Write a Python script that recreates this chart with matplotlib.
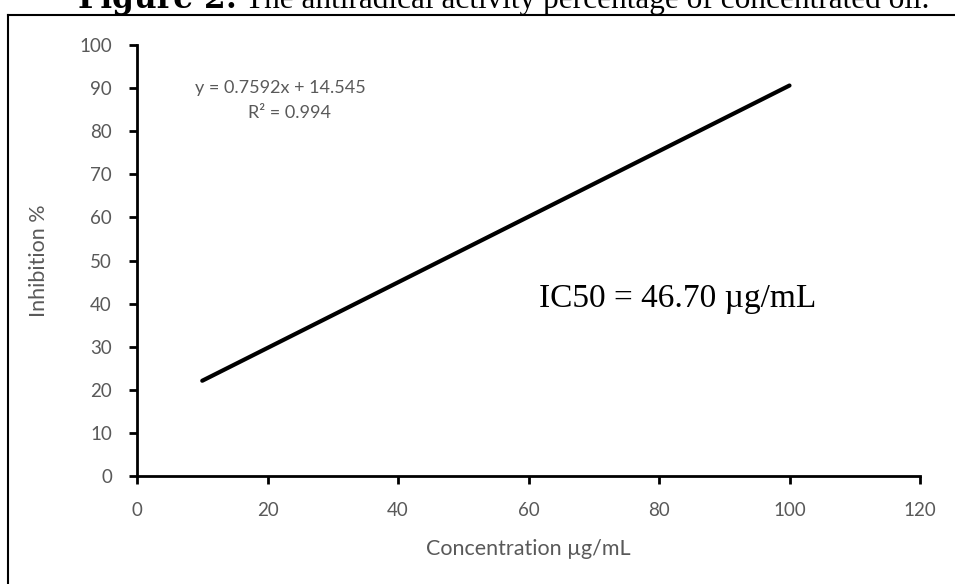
import matplotlib
matplotlib.use("Agg")
import matplotlib.pyplot as plt
from matplotlib.lines import Line2D

# Data
concentration = [10, 100]
inhibition = [22.1, 90.6]
x_ticks = [0, 20, 40, 60, 80, 100, 120]
y_ticks = [0, 10, 20, 30, 40, 50, 60, 70, 80, 90, 100]
equation = "y = 0.7592x + 14.545"
r2_text = "R² = 0.994"
ic50_text = "IC50 = 46.70 µg/mL"
title_bold = "Figure 2:"
title_rest = "The antiradical activity percentage of concentrated oil."
x_label = "Concentration µg/mL"
y_label = "Inhibition %"

W, H = 955, 584
fig = plt.figure(figsize=(W / 100, H / 100), dpi=100)
fig.patch.set_facecolor("white")

ax = fig.add_axes([137 / W, 1 - 476 / H, (920 - 137) / W, (476 - 45) / H])
ax.plot(concentration, inhibition, color="black", lw=3.0, solid_capstyle="round")
ax.set_xlim(0, 120)
ax.set_ylim(0, 100)
ax.set_xticks(x_ticks)
ax.set_yticks(y_ticks)
for s in ["top", "right"]:
    ax.spines[s].set_visible(False)
for s in ["left", "bottom"]:
    ax.spines[s].set_linewidth(2.0)
    ax.spines[s].set_color("black")
tick_font = "Lato"
ax.tick_params(axis="x", direction="out", length=6, width=2.0, color="black",
               labelcolor="#595959", labelsize=13.5, pad=13)
ax.tick_params(axis="y", direction="out", length=6, width=2.0, color="black",
               labelcolor="#595959", labelsize=13.5, pad=12)
for lab in ax.get_xticklabels() + ax.get_yticklabels():
    lab.set_fontfamily(tick_font)

ax.set_xlabel(x_label, fontsize=15.5, color="#595959", family=tick_font, labelpad=14)
ax.set_ylabel(y_label, fontsize=15.5, color="#595959", family=tick_font, labelpad=22)

ax.text(280 / W, 1 - 88 / H, equation, transform=fig.transFigure, ha="center", va="center",
        fontsize=13, color="#595959", family=tick_font)
ax.text(290 / W, 1 - 113 / H, r2_text, transform=fig.transFigure, ha="center", va="center",
        fontsize=13, color="#595959", family=tick_font)
ax.text(678 / W, 1 - 299 / H, ic50_text, transform=fig.transFigure, ha="center", va="center",
        fontsize=24, color="black", family="Liberation Serif")

# Outer frame (partially cut off)
fx = 7.5 / W
fy = 1 - 15 / H
fig.add_artist(Line2D([fx, fx], [0, fy], transform=fig.transFigure, color="black", lw=1.5))
fig.add_artist(Line2D([fx, 1], [fy, fy], transform=fig.transFigure, color="black", lw=1.5))

# Title, mostly clipped at the top as in the reference
ty = 1 - 8 / H
t1 = fig.text(78 / W, ty, title_bold, fontsize=22.5, fontweight="bold",
              family="DejaVu Serif", va="baseline", ha="left")
fig.canvas.draw()
bb = t1.get_window_extent()
t2 = fig.text(bb.x1 / W + 8 / W, ty, title_rest, fontsize=22.5,
              family="Liberation Serif", va="baseline", ha="left")

fig.savefig("out.png", dpi=100, facecolor="white")
